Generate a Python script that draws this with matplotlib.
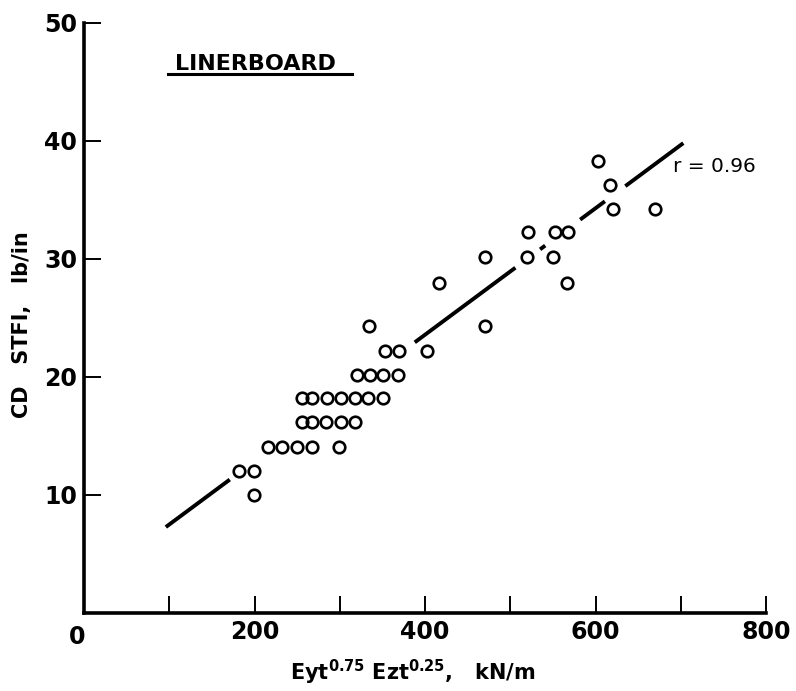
import numpy as np
import matplotlib
matplotlib.use("Agg")
import matplotlib.pyplot as plt
from matplotlib.lines import Line2D

# --- data ---
# STFI rows (lb/in) and the Eyt^0.75 Ezt^0.25 values (kN/m) in each row
row_stfi = [10.0, 12.0, 14.1, 16.2, 18.2, 20.2, 22.2, 24.3,
            28.0, 30.2, 32.3, 34.2, 36.3, 38.3]
row_stiff = [
    [199],
    [182, 199],
    [216, 232, 250, 267, 299],
    [256, 267, 284, 302, 318],
    [256, 267, 285, 302, 318, 333, 351],
    [320, 336, 351, 368],
    [353, 370, 402],
    [334, 470],
    [416, 567],
    [470, 520, 550],
    [521, 553, 568],
    [621, 670],
    [617],
    [603],
]

# regression line, drawn in pieces (broken around the circles)
fit_intercept = 2.14
fit_slope = 0.0536
fit_pieces = [(96, 171), (388, 506), (535, 541), (582, 611), (635, 703)]
r_value = 0.96

x_ticks = [100, 200, 300, 400, 500, 600, 700, 800]
x_labels = ["", "200", "", "400", "", "600", "", "800"]
y_ticks = [10, 20, 30, 40, 50]

W, H = 796, 691
fig = plt.figure(figsize=(W / 100, H / 100), dpi=100)
ax = fig.add_axes([84 / W, (H - 613) / H, (766 - 84) / W, (613 - 23) / H])

# scatter points
xs, ys = [], []
for stfi, vals in zip(row_stfi, row_stiff):
    xs.extend(vals)
    ys.extend([stfi] * len(vals))
ax.plot(xs, ys, linestyle="none", marker="o", markersize=8.3,
        markerfacecolor="none", markeredgecolor="black", markeredgewidth=1.9,
        clip_on=False)

for x0, x1 in fit_pieces:
    xx = np.array([x0, x1])
    ax.plot(xx, fit_intercept + fit_slope * xx, color="black", lw=2.8,
            solid_capstyle="butt")

ax.text(691, 37.8, f"r = {r_value}", fontsize=14.5, va="center", ha="left")

# panel title, underlined
ax.text(107, 46.5, "LINERBOARD", fontsize=16, fontweight="bold",
        va="center", ha="left")
ax.add_line(Line2D([99, 314], [45.7, 45.7], color="black", lw=2.2))

ax.set_xlim(0, 800)
ax.set_ylim(0, 50)
ax.spines["top"].set_visible(False)
ax.spines["right"].set_visible(False)
ax.spines["left"].set_linewidth(2.6)
ax.spines["bottom"].set_linewidth(2.6)

ax.set_xticks(x_ticks)
ax.set_xticklabels(x_labels)
ax.set_yticks(y_ticks)
ax.tick_params(direction="in", length=12, width=1.4, pad=5,
               labelsize=17)
for lab in ax.get_xticklabels() + ax.get_yticklabels():
    lab.set_fontweight("bold")

# the "0" at the origin
ax.text(-8, -1.0, "0", fontsize=17, fontweight="bold", ha="center", va="top")

ax.set_xlabel(r"Eyt$^{\mathbf{0.75}}$ Ezt$^{\mathbf{0.25}}$,   kN/m",
              fontsize=15, fontweight="bold")
ax.xaxis.set_label_coords((413 - 84) / 682, -(672 - 613) / 590)
ax.set_ylabel("CD   STFI,   lb/in", fontsize=15, fontweight="bold")
ax.yaxis.set_label_coords(-(84 - 22) / 682, (613 - 325) / 590)
ax.yaxis.label.set_va("center")
ax.xaxis.label.set_va("center")

fig.savefig("out.png", dpi=100)
